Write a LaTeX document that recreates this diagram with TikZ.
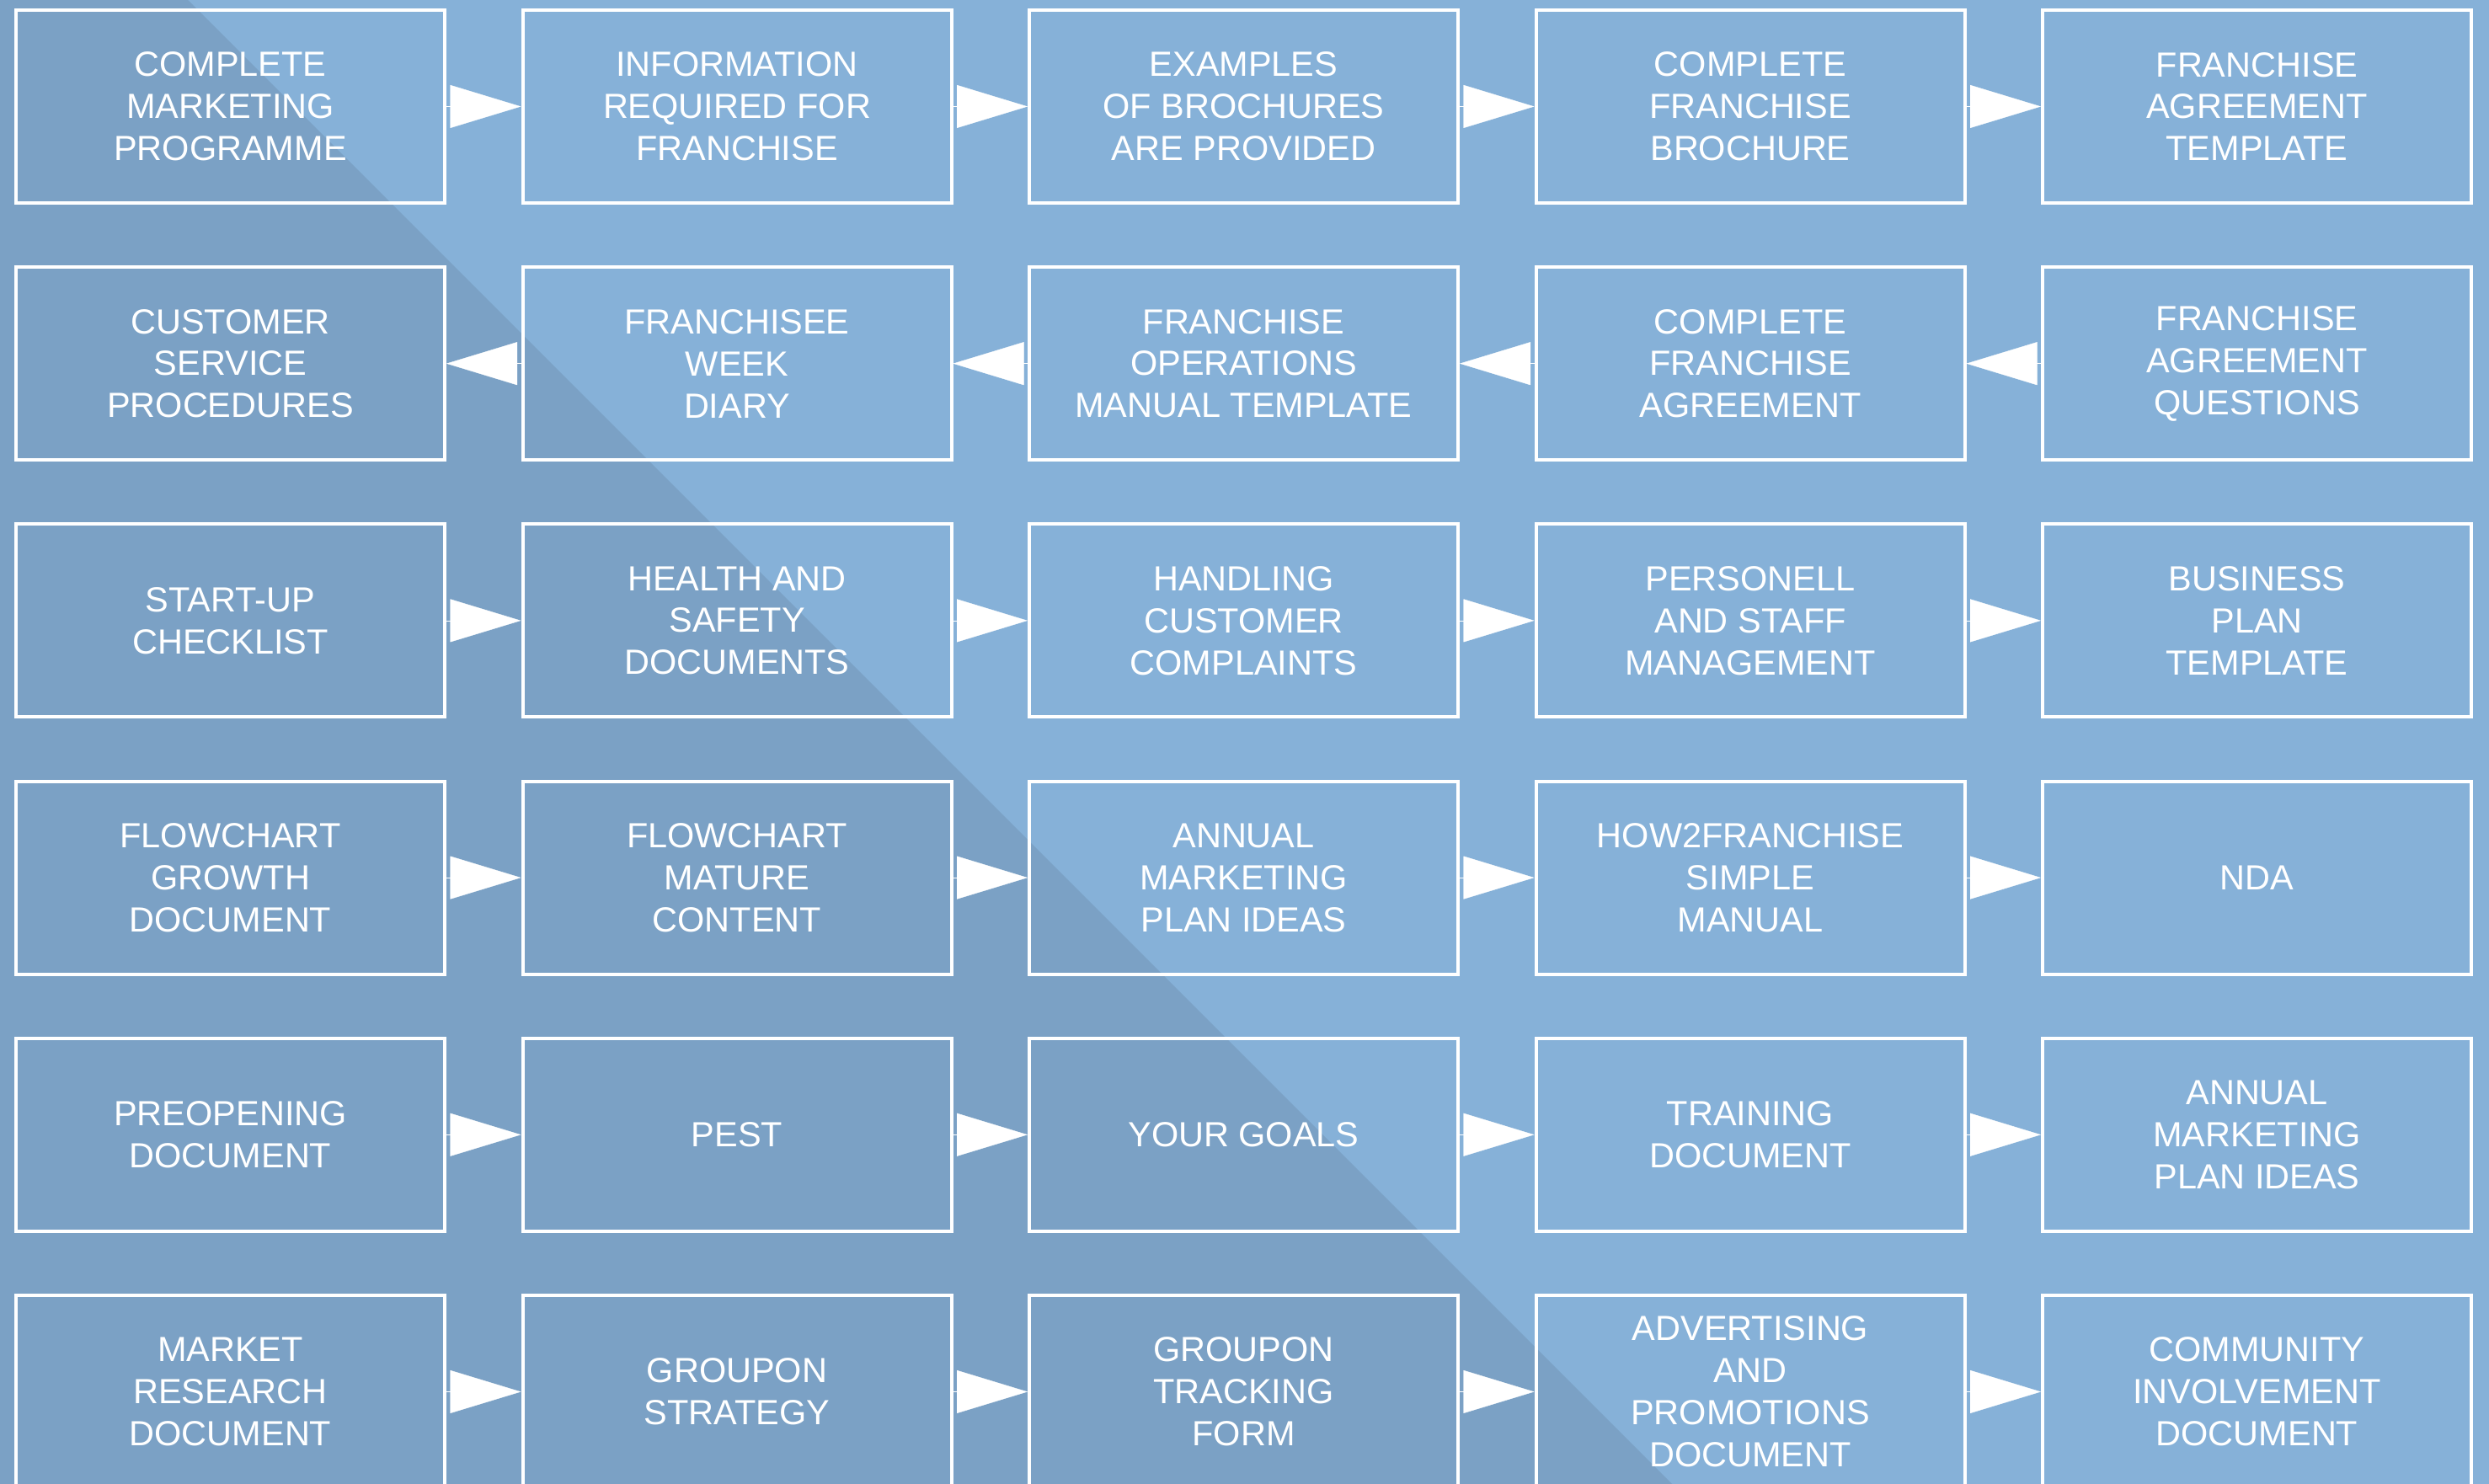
\documentclass[tikz,border=0pt]{standalone}
\usepackage{fontspec}
\setmainfont{Liberation Sans}
\usetikzlibrary{arrows.meta}

\definecolor{skyblue}{RGB}{134,177,216}
\definecolor{shadeblue}{RGB}{123,161,197}

\begin{document}
\begin{tikzpicture}[
	card/.style = {draw = white, line width = 0.4mm, minimum width = 5.09cm, minimum height = 2.29cm,
		inner sep = 0, align = center, text = white, font = \fontsize{11.8}{14.2}\selectfont},
	flow/.style = {white, line width = 0.1pt, -{Triangle[length = 8.4mm, width = 5.1mm]}}
]

	% Definitions

	\def\W{29.55}		% Picture width
	\def\H{17.62}		% Picture height
	\def\dx{6.015}		% Column pitch
	\def\dy{3.052}		% Row pitch

	\useasboundingbox (0, 0) rectangle (\W, \H);

	% Background, with shaded diagonal

	\fill [skyblue] (0, 0) rectangle (\W, \H);
	\fill [shadeblue] (0, 0) -- (0, \H) -- (2.23, \H) -- (19.85, 0) -- cycle;

	% Cards

	\foreach \r/\ta/\tb/\tc/\td/\te in {
		1/{COMPLETE\\MARKETING\\PROGRAMME}/{INFORMATION\\REQUIRED FOR\\FRANCHISE}/{EXAMPLES\\OF BROCHURES\\ARE PROVIDED}/{COMPLETE\\FRANCHISE\\BROCHURE}/{FRANCHISE\\AGREEMENT\\TEMPLATE},
		2/{CUSTOMER\\SERVICE\\PROCEDURES}/{FRANCHISEE\\WEEK\\DIARY}/{FRANCHISE\\OPERATIONS\\MANUAL TEMPLATE}/{COMPLETE\\FRANCHISE\\AGREEMENT}/{FRANCHISE\\AGREEMENT\\QUESTIONS},
		3/{START-UP\\CHECKLIST}/{HEALTH AND\\SAFETY\\DOCUMENTS}/{HANDLING\\CUSTOMER\\COMPLAINTS}/{PERSONELL\\AND STAFF\\MANAGEMENT}/{BUSINESS\\PLAN\\TEMPLATE},
		4/{FLOWCHART\\GROWTH\\DOCUMENT}/{FLOWCHART\\MATURE\\CONTENT}/{ANNUAL\\MARKETING\\PLAN IDEAS}/{HOW2FRANCHISE\\SIMPLE\\MANUAL}/{NDA},
		5/{PREOPENING\\DOCUMENT}/{PEST}/{YOUR GOALS}/{TRAINING\\DOCUMENT}/{ANNUAL\\MARKETING\\PLAN IDEAS},
		6/{MARKET\\RESEARCH\\DOCUMENT}/{GROUPON\\STRATEGY}/{GROUPON\\TRACKING\\FORM}/{ADVERTISING\\AND\\PROMOTIONS\\DOCUMENT}/{COMMUNITY\\INVOLVEMENT\\DOCUMENT}}
		\foreach \c/\t in {1/\ta, 2/\tb, 3/\tc, 4/\td, 5/\te}
			\node [card] (r\r-\c) at ({2.735 + (\c - 1) * \dx}, {\H - 1.265 - (\r - 1) * \dy}) {\t};

	% Arrows, second row runs backwards

	\foreach \r in {1, 3, 4, 5, 6}
		\foreach \c [count = \n from 2] in {1, ..., 4}
			\draw [flow] (r\r-\c.east) -- (r\r-\n.west);
	\foreach \c [count = \n from 2] in {1, ..., 4}
		\draw [flow] (r2-\n.west) -- (r2-\c.east);

\end{tikzpicture}
\end{document}
